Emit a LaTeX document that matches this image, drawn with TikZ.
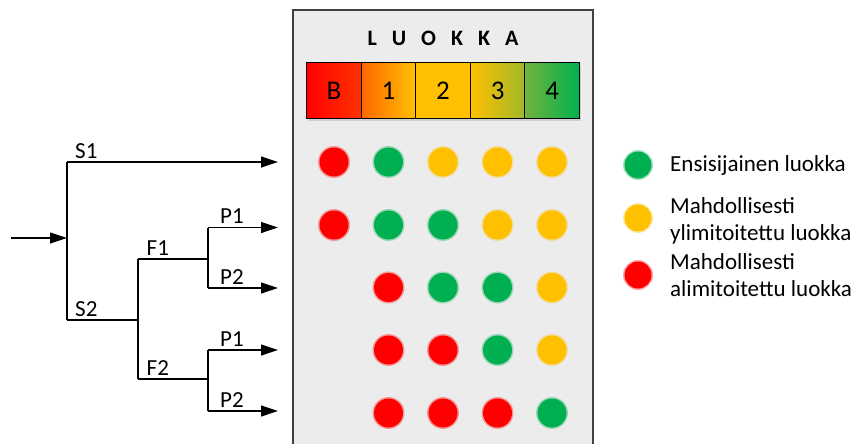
\documentclass[tikz,border=0pt]{standalone}
\usepackage{fontspec}
\setmainfont{Carlito}
\usetikzlibrary{arrows.meta}
\definecolor{panelgray}{HTML}{ECECEC}
\definecolor{panelborder}{HTML}{404040}
\definecolor{cred}{HTML}{FF0000}
\definecolor{cgreen}{HTML}{00B050}
\definecolor{camber}{HTML}{FFC000}
\definecolor{corange}{HTML}{FF6600}
\definecolor{credor}{HTML}{FF3300}
\definecolor{colive}{HTML}{A0B82A}
\definecolor{clgreen}{HTML}{70B43A}
\tikzset{
  tree/.style={line width=1.2pt, black},
  arr/.style={tree, -{Triangle[length=17pt,width=11pt]}},
  lab/.style={anchor=base west, inner sep=0pt, font=\fontsize{23}{27}\selectfont},
  cell/.style={draw=black, line width=1pt, minimum width=54.6pt, minimum height=55pt, inner sep=0pt, font=\fontsize{27}{31}\selectfont},
  dot/.style={circle, inner sep=0pt, minimum size=29pt, fill=#1, draw=#1, draw opacity=0.35, line width=3pt},
  legtext/.style={anchor=base west, inner sep=0pt, align=left, font=\fontsize{23}{27}\selectfont}
}
\begin{document}
\begin{tikzpicture}[x=1pt,y=-1pt]
\useasboundingbox (0,0) rectangle (856,444);
\fill[white] (0,0) rectangle (856,444);
% panel
\fill[panelgray] (293,10) rectangle (593,444);
\draw[panelborder, line width=1.5pt] (293,444) -- (293,10) -- (593,10) -- (593,444);
\node[font=\bfseries\fontsize{22}{26}\selectfont, inner sep=0pt] (title) at (443,38)
  {L\hspace{15pt}U\hspace{15pt}O\hspace{15pt}K\hspace{15pt}K\hspace{15pt}A};
% bar shadow
\fill[black, opacity=0.12] (308,66) rectangle (581,121);
% bar cells
\node[cell, left color=cred, right color=credor] (cB) at (333.85,90.5) {B};
\node[cell, left color=corange, right color=camber] (c1) at (388.45,90.5) {1};
\node[cell, fill=camber] (c2) at (443.05,90.5) {2};
\node[cell, left color=camber, right color=colive] (c3) at (497.65,90.5) {3};
\node[cell, left color=clgreen, right color=cgreen] (c4) at (552.25,90.5) {4};
% dots
\node[dot=cred] (d11) at (334,162) {};
\node[dot=cgreen] (d12) at (388.5,162) {};
\node[dot=camber] (d13) at (443,162) {};
\node[dot=camber] (d14) at (497.5,162) {};
\node[dot=camber] (d15) at (552,162) {};
\node[dot=cred] (d21) at (334,225) {};
\node[dot=cgreen] (d22) at (388.5,225) {};
\node[dot=cgreen] (d23) at (443,225) {};
\node[dot=camber] (d24) at (497.5,225) {};
\node[dot=camber] (d25) at (552,225) {};
\node[dot=cred] (d32) at (388.5,287.5) {};
\node[dot=cgreen] (d33) at (443,287.5) {};
\node[dot=cgreen] (d34) at (497.5,287.5) {};
\node[dot=camber] (d35) at (552,287.5) {};
\node[dot=cred] (d42) at (388.5,350) {};
\node[dot=cred] (d43) at (443,350) {};
\node[dot=cgreen] (d44) at (497.5,350) {};
\node[dot=camber] (d45) at (552,350) {};
\node[dot=cred] (d52) at (388.5,413) {};
\node[dot=cred] (d53) at (443,413) {};
\node[dot=cred] (d54) at (497.5,413) {};
\node[dot=cgreen] (d55) at (552,413) {};
% tree coordinates
\coordinate (in) at (11,238);
\coordinate (j1) at (67,238);
\coordinate (s1a) at (67,162);
\coordinate (s1e) at (278,162);
\coordinate (s2a) at (67,320);
\coordinate (j2) at (138,320);
\coordinate (f1a) at (138,259);
\coordinate (f2a) at (138,379);
\coordinate (j3) at (208,259);
\coordinate (j4) at (208,379);
\coordinate (p11a) at (208,227.5);
\coordinate (p11e) at (278,227.5);
\coordinate (p12a) at (208,288);
\coordinate (p12e) at (278,288);
\coordinate (p21a) at (208,350);
\coordinate (p21e) at (278,350);
\coordinate (p22a) at (208,411);
\coordinate (p22e) at (278,411);
% tree lines
\draw[arr] (in) -- (j1);
\draw[tree] (s1a) -- (s2a);
\draw[arr] (s1a) -- (s1e);
\draw[tree] (s2a) -- (j2);
\draw[tree] (f1a) -- (f2a);
\draw[tree] (f1a) -- (j3);
\draw[tree] (f2a) -- (j4);
\draw[tree] (p11a) -- (p12a);
\draw[tree] (p21a) -- (p22a);
\draw[arr] (p11a) -- (p11e);
\draw[arr] (p12a) -- (p12e);
\draw[arr] (p21a) -- (p21e);
\draw[arr] (p22a) -- (p22e);
% tree labels
\node[lab] (ls1) at (75,158.5) {S1};
\node[lab] (ls2) at (75,316.5) {S2};
\node[lab] (lf1) at (146.5,255.5) {F1};
\node[lab] (lf2) at (146.5,375.5) {F2};
\node[lab] (lp11) at (220,223.5) {P1};
\node[lab] (lp12) at (220,284) {P2};
\node[lab] (lp21) at (220,346) {P1};
\node[lab] (lp22) at (220,407) {P2};
% legend
\node[dot=cgreen, minimum size=27pt] (lg) at (638,165) {};
\node[dot=camber, minimum size=27pt] (ly) at (638,218) {};
\node[dot=cred, minimum size=27pt] (lr) at (638,275) {};
\node[legtext] (tg) at (670,171.5) {Ensisijainen luokka};
\node[legtext] (ty) at (670,240) {Mahdollisesti\\ylimitoitettu luokka};
\node[legtext] (tr) at (670,296) {Mahdollisesti\\alimitoitettu luokka};
\end{tikzpicture}
\end{document}
